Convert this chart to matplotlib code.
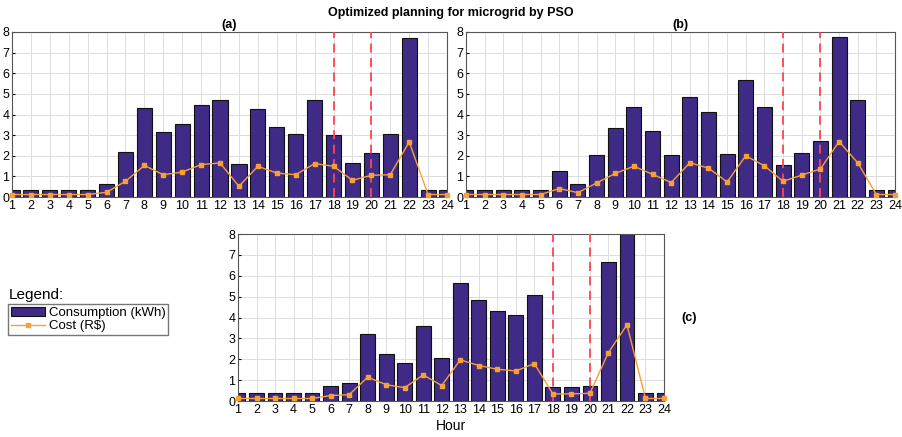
import numpy as np
import matplotlib.pyplot as plt

plt.rcParams['font.family'] = ['Liberation Sans', 'DejaVu Sans']

horas = list(range(1, 25))

# consumo (kWh) y costo (R$) por hora
consumo_a = [0.35, 0.35, 0.35, 0.35, 0.35, 0.63, 2.18, 4.32, 3.17, 3.53, 4.46, 4.68,
             1.58, 4.25, 3.39, 3.04, 4.68, 2.99, 1.66, 2.14, 3.04, 7.72, 0.35, 0.35]
costo_a = [0.12, 0.12, 0.12, 0.12, 0.12, 0.23, 0.76, 1.53, 1.08, 1.21, 1.57, 1.65,
           0.52, 1.49, 1.16, 1.08, 1.62, 1.49, 0.81, 1.05, 1.08, 2.67, 0.12, 0.12]

consumo_b = [0.35, 0.35, 0.35, 0.35, 0.35, 1.27, 0.63, 2.02, 3.33, 4.38, 3.18, 2.02,
             4.84, 4.11, 2.09, 5.68, 4.38, 1.54, 2.14, 2.73, 7.74, 4.71, 0.35, 0.35]
costo_b = [0.12, 0.12, 0.12, 0.12, 0.12, 0.41, 0.21, 0.68, 1.14, 1.49, 1.10, 0.70,
           1.66, 1.40, 0.73, 2.00, 1.51, 0.76, 1.06, 1.36, 2.69, 1.66, 0.12, 0.12]

consumo_c = [0.37, 0.37, 0.37, 0.37, 0.37, 0.74, 0.86, 3.22, 2.27, 1.84, 3.57, 2.06,
             5.63, 4.85, 4.32, 4.13, 5.06, 0.69, 0.69, 0.74, 6.66, 8.0, 0.37, 0.37]
costo_c = [0.12, 0.12, 0.12, 0.12, 0.12, 0.26, 0.30, 1.14, 0.78, 0.64, 1.25, 0.74,
           1.97, 1.70, 1.52, 1.44, 1.79, 0.34, 0.34, 0.37, 2.32, 3.65, 0.12, 0.12]

horas_pico = [18, 20]

color_barra = '#3f2b86'
color_costo = '#f7a035'
color_pico = '#ff4455'

W, H = 902, 437
fig = plt.figure(figsize=(W / 100, H / 100), dpi=100)


def caja(x0, y0, x1, y1):
    return [x0 / W, 1 - y1 / H, (x1 - x0) / W, (y1 - y0) / H]


def panel(ax, consumo, costo):
    barras = ax.bar(horas, consumo, width=0.8, color=color_barra, edgecolor='#111111',
                    linewidth=0.8, zorder=2)
    linea, = ax.plot(horas, costo, color=color_costo, marker='s', markersize=3.5,
                     linewidth=1.0, zorder=4, clip_on=False)
    for h in horas_pico:
        ax.axvline(h, color=color_pico, linestyle=(0, (5, 3)), linewidth=1.3, zorder=3)
    ax.set_xlim(1, 24)
    ax.set_ylim(0, 8)
    ax.set_xticks(horas)
    ax.set_yticks(range(0, 9))
    ax.grid(True, color='#dddddd', linewidth=0.7, zorder=0)
    ax.set_axisbelow(True)
    ax.tick_params(labelsize=9, length=2, direction='in', pad=2)
    for s in ax.spines.values():
        s.set_color('#555555')
        s.set_linewidth(0.8)
    return barras, linea


ax_a = fig.add_axes(caja(12, 32, 447, 197))
panel(ax_a, consumo_a, costo_a)
ax_a.set_title('(a)', fontsize=9, fontweight='bold', pad=3)

ax_b = fig.add_axes(caja(466, 32, 895, 197))
panel(ax_b, consumo_b, costo_b)
ax_b.set_title('(b)', fontsize=9, fontweight='bold', pad=3)

ax_c = fig.add_axes(caja(238, 234, 664, 401))
barras, linea = panel(ax_c, consumo_c, costo_c)
ax_c.set_xlabel('Hour', fontsize=10, labelpad=2)
ax_c.text(1.04, 0.5, '(c)', transform=ax_c.transAxes, fontsize=9,
          fontweight='bold', va='center', ha='left')

fig.text(0.5, 1 - 13 / H, 'Optimized planning for microgrid by PSO',
         ha='center', va='center', fontsize=9, fontweight='bold')

fig.text(9 / W, 1 - 295 / H, 'Legend:', fontsize=11, va='center', ha='left')
fig.legend([barras, linea], ['Consumption (kWh)', 'Cost (R$)'], loc='upper left',
           bbox_to_anchor=(8 / W, 1 - 304 / H),
           fontsize=9.5, frameon=True, fancybox=False, edgecolor='#555555',
           borderpad=0.2, labelspacing=0.1, handlelength=2.6, handletextpad=0.3,
           borderaxespad=0)

fig.savefig('out.png', dpi=100)
